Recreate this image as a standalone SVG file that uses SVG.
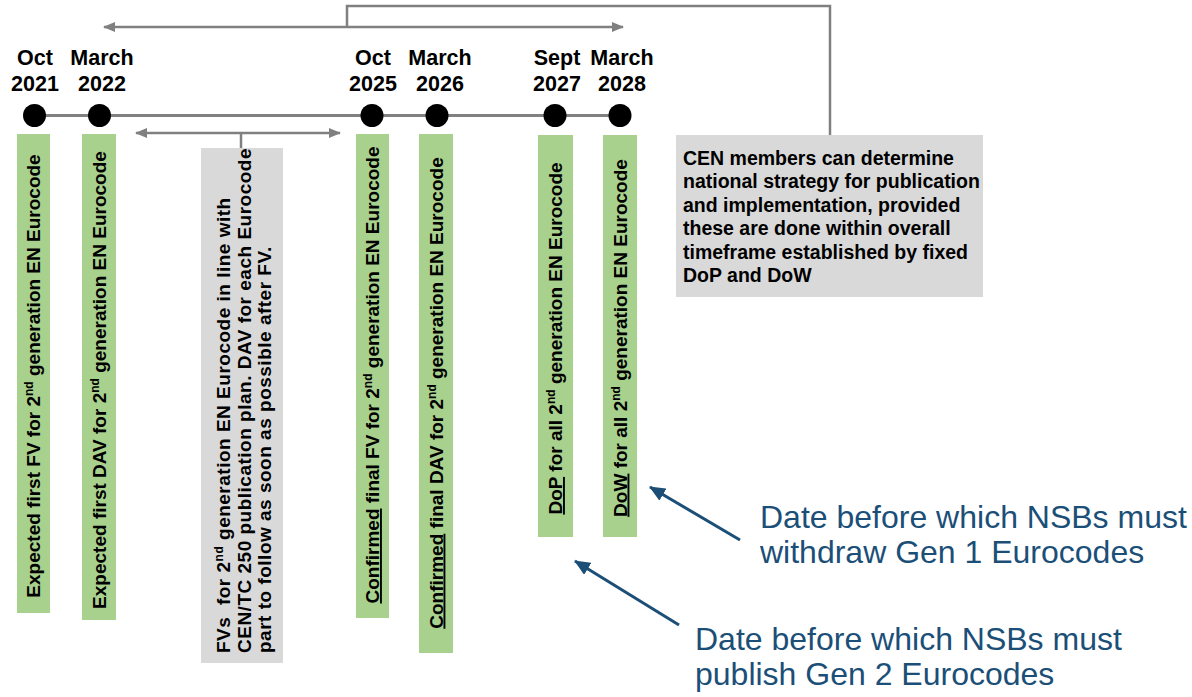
<svg xmlns="http://www.w3.org/2000/svg" width="1192" height="697" viewBox="0 0 1192 697">
<style>
.bg{fill:#ffffff}
.green{fill:#a9d18e}
.grey{fill:#d9d9d9}
.conn{stroke:#808080;stroke-width:2.5;fill:none}
.tl{stroke:#808080;stroke-width:3;fill:none}
.dot{fill:#000000}
.date{font-family:"Liberation Sans",Arial,sans-serif;font-weight:bold;font-size:21.5px;fill:#000;text-anchor:middle}
.vt{font-family:"Liberation Sans",Arial,sans-serif;font-weight:bold;font-size:19px;fill:#000}
.gt{font-family:"Liberation Sans",Arial,sans-serif;font-weight:bold;font-size:19px;letter-spacing:0.5px;fill:#000}
.ct{font-family:"Liberation Sans",Arial,sans-serif;font-weight:bold;font-size:19.5px;fill:#000}
.blue{font-family:"Liberation Sans",Arial,sans-serif;font-size:32px;fill:#1b4f78}
.barrow{stroke:#1b4f78;stroke-width:3;fill:none}
.sup{font-size:12px}
.u{text-decoration:underline}
</style>
<defs>
<marker id="ga" viewBox="0 0 12 10" refX="11" refY="5" markerWidth="12" markerHeight="10" markerUnits="userSpaceOnUse" orient="auto-start-reverse">
<path d="M0,0 L12,5 L0,10 Z" fill="#808080"/>
</marker>
<marker id="ba" viewBox="0 0 16 14" refX="15" refY="7" markerWidth="16" markerHeight="14" markerUnits="userSpaceOnUse" orient="auto">
<path d="M0,0 L16,7 L0,14 Z" fill="#1b4f78"/>
</marker>
</defs>
<rect class="bg" x="0" y="0" width="1192" height="697"/>

<g id="connectors">
<line class="tl" x1="35" y1="115.5" x2="620" y2="115.5"/>
<polyline class="conn" points="347,27 347,6 830,6 830,135"/>
<line class="conn" x1="104" y1="27" x2="623" y2="27" marker-start="url(#ga)" marker-end="url(#ga)"/>
<line class="conn" x1="136" y1="133" x2="340" y2="133" marker-start="url(#ga)" marker-end="url(#ga)"/>
<line class="conn" x1="241" y1="133" x2="241" y2="148"/>
<line class="barrow" x1="740" y1="540" x2="650" y2="487" marker-end="url(#ba)"/>
<line class="barrow" x1="679" y1="625" x2="575" y2="561" marker-end="url(#ba)"/>
</g>

<g id="m-oct2021">
<circle class="dot" cx="34.5" cy="115.5" r="11.5"/>
<text class="date" x="35" y="65">Oct</text>
<text class="date" x="35" y="91">2021</text>
</g>
<g id="m-mar2022">
<circle class="dot" cx="99.5" cy="115.5" r="11.5"/>
<text class="date" x="102" y="65">March</text>
<text class="date" x="102" y="91">2022</text>
</g>
<g id="m-oct2025">
<circle class="dot" cx="372" cy="115.5" r="11.5"/>
<text class="date" x="373" y="65">Oct</text>
<text class="date" x="373" y="91">2025</text>
</g>
<g id="m-mar2026">
<circle class="dot" cx="437" cy="115.5" r="11.5"/>
<text class="date" x="440" y="65">March</text>
<text class="date" x="440" y="91">2026</text>
</g>
<g id="m-sep2027">
<circle class="dot" cx="555" cy="115.5" r="11.5"/>
<text class="date" x="557" y="65">Sept</text>
<text class="date" x="557" y="91">2027</text>
</g>
<g id="m-mar2028">
<circle class="dot" cx="620" cy="115.5" r="11.5"/>
<text class="date" x="622" y="65">March</text>
<text class="date" x="622" y="91">2028</text>
</g>

<g id="b-firstfv">
<rect class="green" x="17" y="134" width="33" height="479"/>
<text class="vt" text-anchor="middle" transform="translate(40,376) rotate(-90)">Expected first FV for 2<tspan class="sup" dy="-7">nd</tspan><tspan dy="7"> generation EN Eurocode</tspan></text>
</g>
<g id="b-firstdav">
<rect class="green" x="82" y="134" width="34" height="486"/>
<text class="vt" text-anchor="middle" transform="translate(105.5,380) rotate(-90)">Expected first DAV for 2<tspan class="sup" dy="-7">nd</tspan><tspan dy="7"> generation EN Eurocode</tspan></text>
</g>
<g id="b-fvs">
<rect class="grey" x="201" y="148" width="82" height="515"/>
<text class="gt" transform="translate(230,653) rotate(-90)">FVs&#160; for 2<tspan class="sup" dy="-7">nd</tspan><tspan dy="7"> generation EN Eurocode in line with</tspan></text>
<text class="gt" transform="translate(250.5,653) rotate(-90)">CEN/TC 250 publication plan. DAV for each Eurocode</text>
<text class="gt" transform="translate(271,653) rotate(-90)">part to follow as soon as possible after FV.</text>
</g>
<g id="b-finalfv">
<rect class="green" x="356" y="134" width="33" height="484"/>
<text class="vt" text-anchor="middle" transform="translate(379,375) rotate(-90)"><tspan class="u">Confirmed</tspan> final FV for 2<tspan class="sup" dy="-7">nd</tspan><tspan dy="7"> generation EN Eurocode</tspan></text>
</g>
<g id="b-finaldav">
<rect class="green" x="419" y="134" width="34" height="519"/>
<text class="vt" text-anchor="middle" transform="translate(442.5,393) rotate(-90)"><tspan class="u">Confirmed</tspan> final DAV for 2<tspan class="sup" dy="-7">nd</tspan><tspan dy="7"> generation EN Eurocode</tspan></text>
</g>
<g id="b-dop">
<rect class="green" x="538" y="135" width="35" height="402"/>
<text class="vt" text-anchor="middle" transform="translate(562,338.5) rotate(-90)"><tspan class="u">DoP</tspan> for all 2<tspan class="sup" dy="-7">nd</tspan><tspan dy="7"> generation EN Eurocode</tspan></text>
</g>
<g id="b-dow">
<rect class="green" x="603" y="135" width="34" height="402"/>
<text class="vt" text-anchor="middle" transform="translate(626.5,338) rotate(-90)"><tspan class="u">DoW</tspan> for all 2<tspan class="sup" dy="-7">nd</tspan><tspan dy="7"> generation EN Eurocode</tspan></text>
</g>
<g id="b-cen">
<rect class="grey" x="676" y="135" width="307" height="162"/>
<text class="ct" x="683" y="165">CEN members can determine</text>
<text class="ct" x="683" y="188.4">national strategy for publication</text>
<text class="ct" x="683" y="211.8">and implementation, provided</text>
<text class="ct" x="683" y="235.2">these are done within overall</text>
<text class="ct" x="683" y="258.6">timeframe established by fixed</text>
<text class="ct" x="683" y="282">DoP and DoW</text>
</g>
<g id="n-dow">
<text class="blue" x="760" y="528">Date before which NSBs must</text>
<text class="blue" x="760" y="563">withdraw Gen 1 Eurocodes</text>
</g>
<g id="n-dop">
<text class="blue" x="695" y="650">Date before which NSBs must</text>
<text class="blue" x="695" y="685">publish Gen 2 Eurocodes</text>
</g>
</svg>
